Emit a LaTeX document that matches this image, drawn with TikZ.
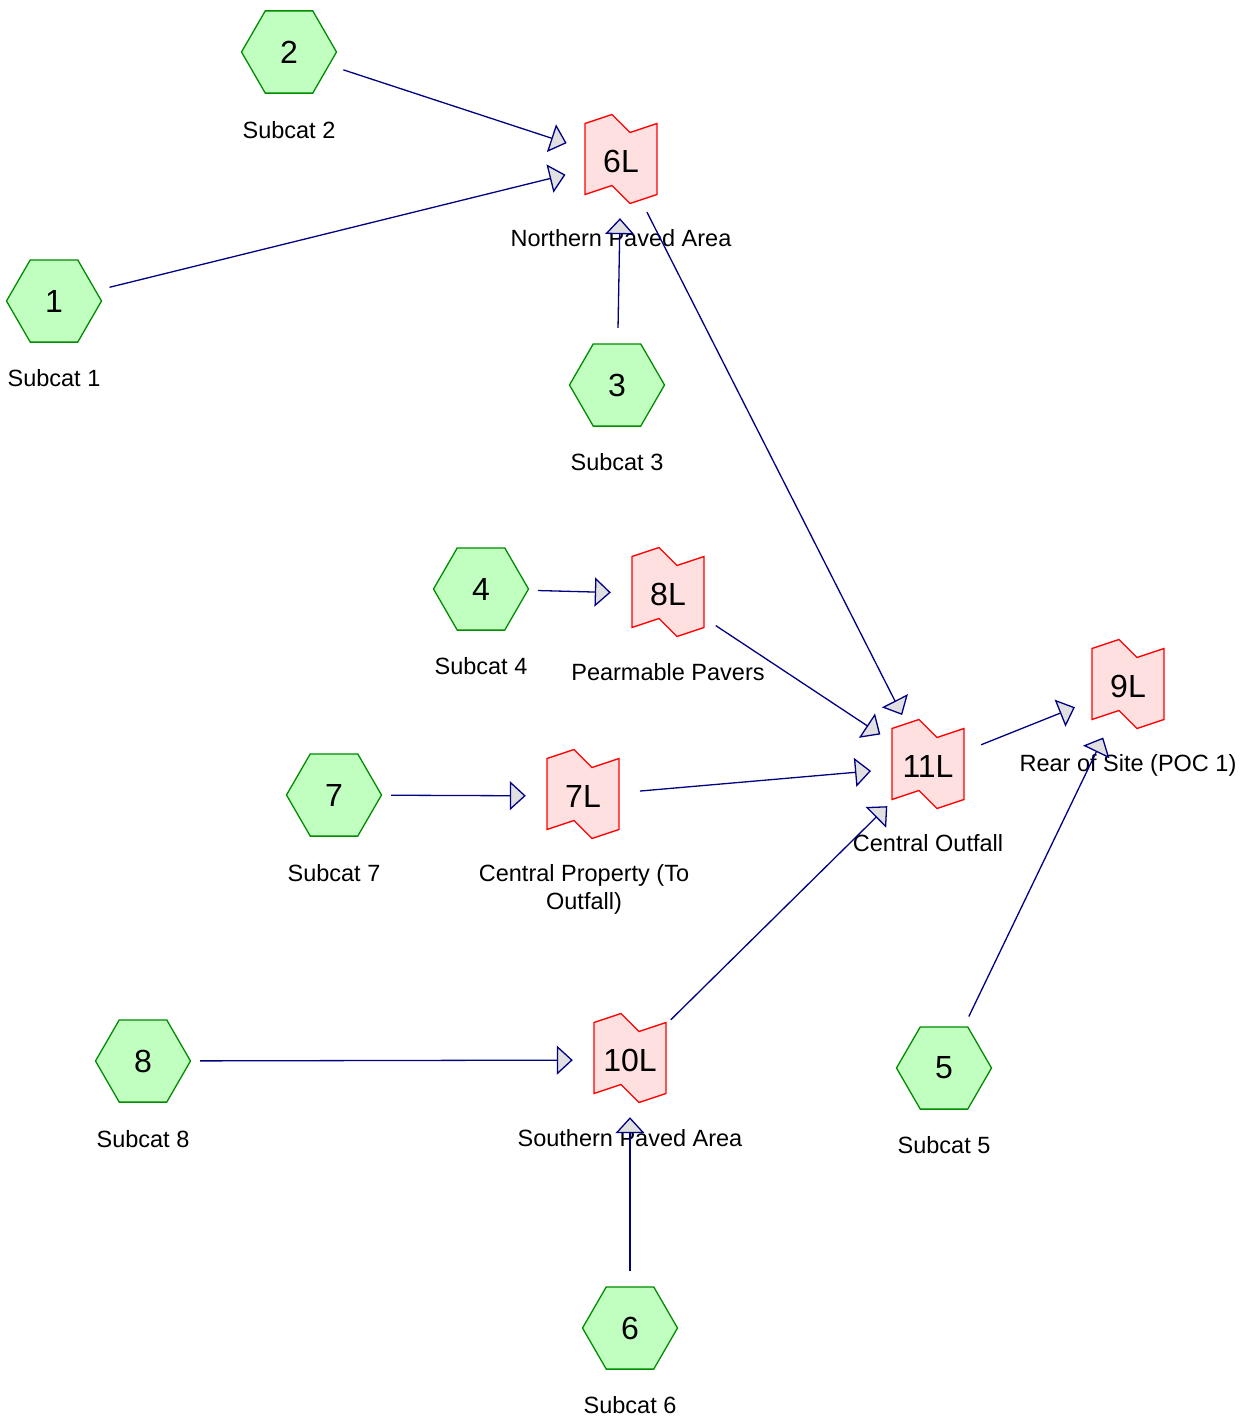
\documentclass[tikz,border=0pt]{standalone}
\usepackage{fontspec}
\setmainfont{Liberation Sans}
\usetikzlibrary{arrows.meta}
\definecolor{hexfill}{RGB}{192,255,192}
\definecolor{hexline}{RGB}{0,140,0}
\definecolor{pondfill}{RGB}{255,224,224}
\definecolor{pondline}{RGB}{255,0,0}
\definecolor{linkcol}{RGB}{0,0,128}
\definecolor{tipfill}{RGB}{224,224,224}
\tikzset{
  x=1pt, y=-1pt,
  hexnode/.style={circle, minimum size=114pt, inner sep=0pt,
    font=\fontsize{32}{32}\selectfont,
    path picture={
      \draw[hexline, fill=hexfill, line width=1.3pt]
        ([shift={(-47.5,0)}]path picture bounding box.center) --
        ([shift={(-23.75,-41.1)}]path picture bounding box.center) --
        ([shift={(23.75,-41.1)}]path picture bounding box.center) --
        ([shift={(47.5,0)}]path picture bounding box.center) --
        ([shift={(23.75,41.1)}]path picture bounding box.center) --
        ([shift={(-23.75,41.1)}]path picture bounding box.center) -- cycle;
    }},
  pondnode/.style={circle, minimum size=114pt, inner sep=0pt,
    font=\fontsize{32}{32}\selectfont,
    path picture={
      \draw[pondline, fill=pondfill, line width=1.3pt]
        ([shift={(-36,-37.5)}]path picture bounding box.center) --
        ([shift={(-9,-46.5)}]path picture bounding box.center) --
        ([shift={(9,-28.5)}]path picture bounding box.center) --
        ([shift={(36,-37.5)}]path picture bounding box.center) --
        ([shift={(36,33.5)}]path picture bounding box.center) --
        ([shift={(9,42.5)}]path picture bounding box.center) --
        ([shift={(-9,24.5)}]path picture bounding box.center) --
        ([shift={(-36,33.5)}]path picture bounding box.center) -- cycle;
    }},
  lbl/.style={anchor=base, inner sep=0pt, font=\fontsize{23.5}{28}\selectfont},
  link/.style={draw=linkcol, line width=1.3pt,
    -{Triangle[length=16pt, width=29pt, fill=tipfill, line width=1.3pt]}},
}
\begin{document}
\begin{tikzpicture}
\useasboundingbox (0,0) rectangle (1252,1421);
% subcatchments
\node[hexnode] (h1) at (54,301) {1};
\node[hexnode] (h2) at (289,52) {2};
\node[hexnode] (h3) at (617,385) {3};
\node[hexnode] (h4) at (481,589) {4};
\node[hexnode] (h7) at (334,795) {7};
\node[hexnode] (h8) at (143,1061) {8};
\node[hexnode] (h5) at (944,1068) {5};
\node[hexnode] (h6) at (630,1328) {6};
% ponds
\node[pondnode] (p6) at (621,161) {6L};
\node[pondnode] (p8) at (668,594) {8L};
\node[pondnode] (p7) at (583,796) {7L};
\node[pondnode] (p11) at (928,766) {11L};
\node[pondnode] (p9) at (1128,686) {9L};
\node[pondnode] (p10) at (630,1060) {10L};
% labels
\node[lbl] (l1) at (54,386) {Subcat 1};
\node[lbl] (l2) at (289,138) {Subcat 2};
\node[lbl] (l3) at (617,470) {Subcat 3};
\node[lbl] (l4) at (481,674) {Subcat 4};
\node[lbl] (l7) at (334,881) {Subcat 7};
\node[lbl] (l8) at (143,1147) {Subcat 8};
\node[lbl] (l5) at (944,1153) {Subcat 5};
\node[lbl] (l6) at (630,1413) {Subcat 6};
\node[lbl] (lp6) at (621,246) {Northern Paved Area};
\node[lbl] (lp8) at (668,680) {Pearmable Pavers};
\node[anchor=center, inner sep=0pt, align=center, font=\fontsize{23.5}{28}\selectfont] (lp7) at (584,889) {Central Property (To\\Outfall)};
\node[lbl] (lp11) at (928,851) {Central Outfall};
\node[lbl] (lp9) at (1128,771) {Rear of Site (POC 1)};
\node[lbl] (lp10) at (630,1146) {Southern Paved Area};
% links
\draw[link] (h2) -- (p6);
\draw[link] (h1) -- (p6);
\draw[link] (h3) -- (p6);
\draw[link] (p6) -- (p11);
\draw[link] (h4) -- (p8);
\draw[link] (p8) -- (p11);
\draw[link] (h7) -- (p7);
\draw[link] (p7) -- (p11);
\draw[link] (p11) -- (p9);
\draw[link] (h5) -- (p9);
\draw[link] (p10) -- (p11);
\draw[link] (h8) -- (p10);
\draw[link] (h6) -- (p10);
\end{tikzpicture}
\end{document}
